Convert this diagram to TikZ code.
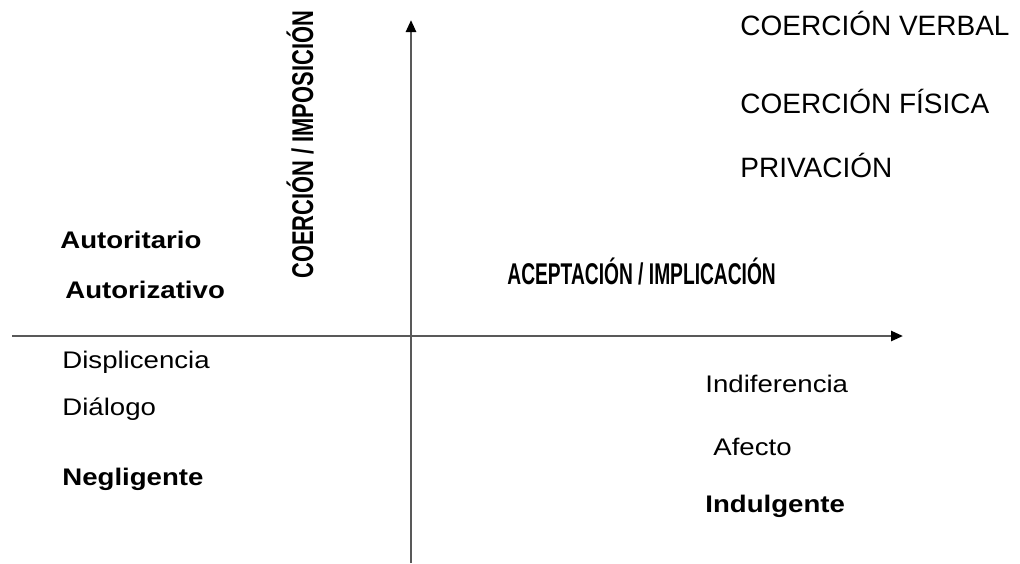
\documentclass[tikz,border=0pt]{standalone}
\usepackage{fontspec}
\setmainfont{Liberation Sans}
\newfontfamily\widefont{Liberation Sans}[FakeStretch=1.15]
\newfontfamily\narrowA{Liberation Sans}[FakeStretch=0.64]
\newfontfamily\narrowB{Liberation Sans}[FakeStretch=0.73]
\usetikzlibrary{arrows.meta}
\tikzset{
	axis/.style={line width=1.25pt, color=black!65, -{Triangle[length=6pt,width=5pt,color=black]}},
	toplabel/.style={anchor=base west, inner sep=0pt, font=\fontsize{14pt}{16pt}\selectfont},
	lowlabel/.style={anchor=base west, inner sep=0pt, font=\widefont\fontsize{12pt}{14pt}\selectfont},
	boldlabel/.style={lowlabel, font=\widefont\bfseries\fontsize{12pt}{14pt}\selectfont},
}

\begin{document}
\begin{tikzpicture}[x=0.5pt, y=-0.5pt]
			%%%%% START %%%%%
			
			\useasboundingbox (0, 0) rectangle (1020, 563);
			
			\coordinate (xstart) at (12, 336);
			\coordinate (xend) at (903, 336);
			\coordinate (ystart) at (411, 563);
			\coordinate (yend) at (411, 20);
			
			\draw[axis] (xstart) -- (xend);
			\draw[axis] (ystart) -- (yend);
			
			\node[anchor=base west, inner sep=0pt, rotate=90, font=\narrowB\bfseries\fontsize{15pt}{16pt}\selectfont] (coercion) at (313, 279) {COERCIÓN / IMPOSICIÓN};
			\node[anchor=base west, inner sep=0pt, font=\narrowA\bfseries\fontsize{15pt}{16pt}\selectfont] (aceptacion) at (507, 284) {ACEPTACIÓN / IMPLICACIÓN};
			
			\node[toplabel] (verbal) at (740, 35) {COERCIÓN VERBAL};
			\node[toplabel] (fisica) at (740, 113) {COERCIÓN FÍSICA};
			\node[toplabel] (privacion) at (740, 177) {PRIVACIÓN};
			
			\node[boldlabel] (autoritario) at (60, 248) {Autoritario};
			\node[boldlabel] (autorizativo) at (65, 298) {Autorizativo};
			
			\node[lowlabel] (displicencia) at (62, 368) {Displicencia};
			\node[lowlabel] (dialogo) at (62, 415) {Diálogo};
			\node[boldlabel] (negligente) at (62, 485) {Negligente};
			
			\node[lowlabel] (indiferencia) at (705, 392) {Indiferencia};
			\node[lowlabel] (afecto) at (713, 455) {Afecto};
			\node[boldlabel] (indulgente) at (705, 512) {Indulgente};
			
			%%%%% END %%%%%
		\end{tikzpicture}
\end{document}
